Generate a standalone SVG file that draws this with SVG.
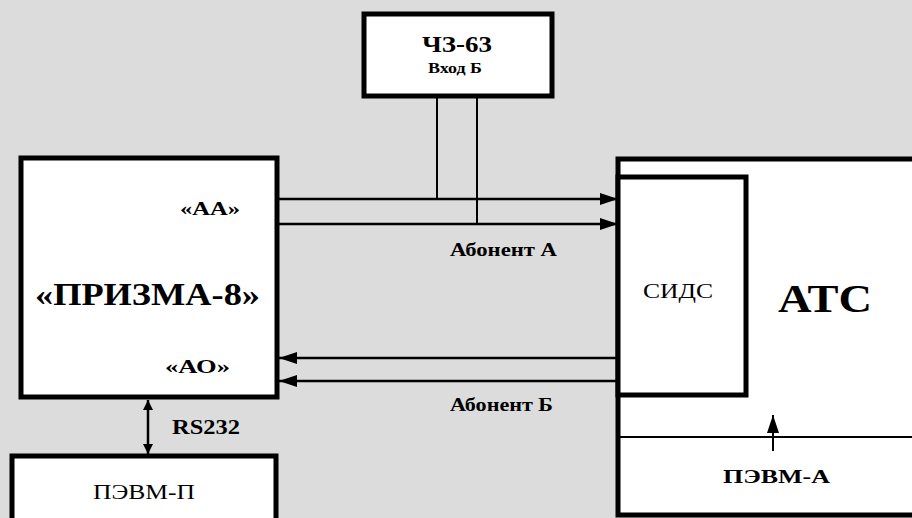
<svg xmlns="http://www.w3.org/2000/svg" width="912" height="518" viewBox="0 0 912 518">
<defs>
<style>
.box{fill:#fff;stroke:#000;stroke-width:5}
.ln{stroke:#000;stroke-width:2.5;fill:none}
text{font-family:'Liberation Serif','DejaVu Serif',serif;fill:#000;text-anchor:start}
.b{font-weight:bold}
</style>
<marker id="ah" viewBox="0 0 18 12" refX="18" refY="6" markerWidth="18" markerHeight="12" markerUnits="userSpaceOnUse" orient="auto-start-reverse">
<path d="M0,0 L18,6 L0,12 z" fill="#000"/>
</marker>
<marker id="ah2" viewBox="0 0 10 10" refX="10" refY="5" markerWidth="10" markerHeight="10" markerUnits="userSpaceOnUse" orient="auto-start-reverse">
<path d="M0,0 L10,5 L0,10 z" fill="#000"/>
</marker>
</defs>
<rect width="912" height="518" fill="#dcdcdc"/>
<g id="ats">
<rect class="box" x="618" y="159" width="310" height="356"/>
<line x1="620" y1="437" x2="912" y2="437" stroke="#000" stroke-width="2"/>
<text class="b" x="778" y="312" font-size="40" textLength="94" lengthAdjust="spacingAndGlyphs">АТС</text>
<text class="b" x="723" y="483" font-size="19" textLength="107" lengthAdjust="spacingAndGlyphs">ПЭВМ-А</text>
</g>
<g id="sids">
<rect class="box" x="618" y="177" width="128" height="218"/>
<text x="643" y="298" font-size="20" textLength="70" lengthAdjust="spacingAndGlyphs">СИДС</text>
</g>
<g id="ch3">
<rect class="box" x="364" y="14" width="188" height="82"/>
<text class="b" x="422" y="52" font-size="24" textLength="70" lengthAdjust="spacingAndGlyphs">ЧЗ-63</text>
<text class="b" x="428" y="73" font-size="14" textLength="54" lengthAdjust="spacingAndGlyphs">Вход Б</text>
</g>
<g id="prizma">
<rect class="box" x="21" y="158" width="256" height="239"/>
<text class="b" x="180" y="215" font-size="18" textLength="60" lengthAdjust="spacingAndGlyphs">«АА»</text>
<text class="b" x="35" y="305" font-size="31" textLength="225" lengthAdjust="spacingAndGlyphs">«ПРИЗМА-8»</text>
<text class="b" x="165" y="373" font-size="19" textLength="65" lengthAdjust="spacingAndGlyphs">«АО»</text>
</g>
<g id="pevm-p">
<rect class="box" x="12" y="456" width="264" height="80"/>
<text x="93" y="499" font-size="21" textLength="102" lengthAdjust="spacingAndGlyphs">ПЭВМ-П</text>
</g>
<g id="connectors">
<line class="ln" x1="277" y1="199" x2="618" y2="199" marker-end="url(#ah)"/>
<line class="ln" x1="277" y1="224" x2="618" y2="224" marker-end="url(#ah)"/>
<line x1="437" y1="97" x2="437" y2="199" stroke="#000" stroke-width="2"/>
<line x1="477" y1="97" x2="477" y2="224" stroke="#000" stroke-width="2"/>
<line class="ln" x1="617" y1="358" x2="279" y2="358" marker-end="url(#ah)"/>
<line class="ln" x1="617" y1="381" x2="279" y2="381" marker-end="url(#ah)"/>
<line x1="773" y1="451" x2="773" y2="415" stroke="#000" stroke-width="2" marker-end="url(#ah)"/>
<line x1="148" y1="400" x2="148" y2="454" stroke="#000" stroke-width="2.5" marker-start="url(#ah2)" marker-end="url(#ah2)"/>
<text class="b" x="450" y="256" font-size="18" textLength="107" lengthAdjust="spacingAndGlyphs">Абонент А</text>
<text class="b" x="450" y="411" font-size="18" textLength="103" lengthAdjust="spacingAndGlyphs">Абонент Б</text>
<text class="b" x="172" y="434" font-size="21" textLength="68" lengthAdjust="spacingAndGlyphs">RS232</text>
</g>
</svg>
